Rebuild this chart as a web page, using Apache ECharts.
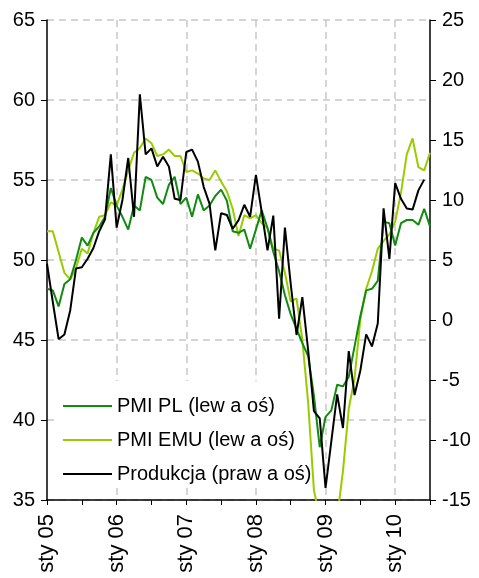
<!DOCTYPE html>
<html>
<head>
<meta charset="utf-8">
<script src="https://cdn.jsdelivr.net/npm/echarts@6/dist/echarts.min.js"></script>
<style>
  html, body { margin: 0; padding: 0; background: #fff; }
  #chart { width: 479px; height: 578px; }
</style>
</head>
<body>
<div id="chart"></div>
<script>
// months sty 05 .. lip 10
let monthNames = ['sty','lut','mar','kwi','maj','cze','lip','sie','wrz','paź','lis','gru'];
let years = ['05','06','07','08','09','10'];
let months = [];
years.forEach(function (y) {
    monthNames.forEach(function (m) { months.push(m + ' ' + y); });
});
months = months.slice(0, 67);

// PMI Polska (left axis)
let pmiPL = [48.2,48.1,47.1,48.5,48.8,50.0,51.4,50.9,51.7,52.1,52.7,54.5,
             53.4,52.7,51.9,53.4,53.1,55.2,55.0,53.9,53.5,54.7,55.2,53.5,
             53.9,52.7,54.1,53.1,53.4,54.0,54.4,53.7,51.8,51.7,51.9,50.7,
             51.9,53.1,52.0,50.5,49.3,47.8,46.6,45.7,44.8,44.0,41.5,38.3,
             40.2,40.6,42.2,42.1,42.7,44.6,46.5,48.1,48.2,48.7,52.4,52.3,
             50.9,52.3,52.5,52.5,52.2,53.2,52.1];
// PMI strefa euro (left axis)
let pmiEMU = [51.8,51.8,50.5,49.2,48.8,49.5,50.7,50.4,51.7,52.7,52.8,53.6,
              53.4,54.4,55.6,56.7,57.0,57.6,57.3,56.5,56.6,56.9,56.5,56.5,
              55.5,55.6,55.4,55.1,55.0,55.6,54.9,54.3,53.2,51.5,52.8,52.6,
              52.8,52.3,52.0,50.7,50.6,49.2,47.4,47.6,45.0,41.1,35.6,33.9,
              34.4,33.5,33.9,36.8,40.7,42.6,46.3,48.2,49.3,50.7,51.2,51.6,
              52.4,54.2,56.6,57.6,55.8,55.6,56.7];
// produkcja przemyslowa r/r (right axis)
let produkcja = [4.7,1.5,-1.6,-1.2,0.8,4.3,4.4,5.1,6.0,7.4,8.4,13.8,
                 7.7,10.0,13.5,8.6,18.8,13.8,14.3,12.8,13.6,12.8,10.1,10.0,
                 14.0,14.2,13.2,11.1,9.7,5.8,8.9,8.75,7.6,8.3,9.6,8.6,
                 12.1,9.0,5.8,8.7,0.1,7.7,3.0,-1.25,1.9,-2.5,-7.6,-8.2,
                 -14.0,-10.1,-6.2,-9.0,-2.6,-6.25,-4.2,-1.2,-2.2,-0.3,9.3,5.1,
                 11.4,10.1,9.3,9.2,10.8,11.7];

let seriesNames = ['PMI PL (lew a oś)', 'PMI EMU (lew a oś)', 'Produkcja (praw a oś)'];
let colors = ['#118a11', '#99cc00', '#000000'];

let font = "'Liberation Sans', Arial, sans-serif";
let myChart = echarts.init(document.getElementById('chart'), null, {renderer: 'canvas'});

let gridLine = {
    show: true,
    lineStyle: { color: '#c8c8c8', width: 1.5, type: [7, 5] }
};

let option = {
    animation: false,
    backgroundColor: '#fff',
    textStyle: { fontFamily: font },
    grid: { left: 47, right: 49, top: 20, bottom: 78, containLabel: false },
    legend: {
        orient: 'vertical',
        left: 55,
        top: 381,
        z: 1,
        padding: [15, 8, 4, 8],
        backgroundColor: '#fff',
        icon: 'rect',
        itemWidth: 49,
        itemHeight: 2,
        itemGap: 14,
        textStyle: { fontSize: 20, color: '#000', fontFamily: font },
        data: seriesNames
    },
    xAxis: {
        type: 'category',
        data: months,
        boundaryGap: false,
        axisLine: { onZero: false, lineStyle: { color: '#000', width: 1.5 } },
        axisTick: {
            length: 5,
            lineStyle: { color: '#000', width: 1 },
            interval: function (idx) { return idx % 6 === 0; }
        },
        axisLabel: {
            rotate: 90,
            fontSize: 22,
            color: '#000',
            margin: 14,
            interval: function (idx) { return idx % 12 === 0; }
        },
        splitLine: {
            show: true,
            interval: function (idx) { return idx % 12 === 0 && idx > 0 && idx < 66; },
            lineStyle: gridLine.lineStyle
        }
    },
    yAxis: [
        {
            type: 'value',
            min: 35, max: 65, interval: 5,
            axisLine: { show: true, lineStyle: { color: '#000', width: 1.5 } },
            axisTick: { show: true, length: 6, lineStyle: { color: '#000' } },
            axisLabel: { fontSize: 20, color: '#000', margin: 12 },
            splitLine: gridLine
        },
        {
            type: 'value',
            min: -15, max: 25, interval: 5,
            position: 'right',
            axisLine: { show: true, lineStyle: { color: '#000', width: 1.5 } },
            axisTick: { show: true, length: 6, lineStyle: { color: '#000' } },
            axisLabel: { fontSize: 20, color: '#000', margin: 12 },
            splitLine: { show: false }
        }
    ],
    series: [
        {
            name: seriesNames[0], type: 'line', yAxisIndex: 0, data: pmiPL,
            symbol: 'none', z: 3, color: colors[0],
            lineStyle: { width: 2, color: colors[0] }
        },
        {
            name: seriesNames[1], type: 'line', yAxisIndex: 0, data: pmiEMU,
            symbol: 'none', z: 2, color: colors[1],
            lineStyle: { width: 2, color: colors[1] }
        },
        {
            name: seriesNames[2], type: 'line', yAxisIndex: 1, data: produkcja,
            symbol: 'none', z: 4, color: colors[2],
            lineStyle: { width: 2, color: colors[2] }
        }
    ]
};
myChart.setOption(option);
</script>
</body>
</html>
